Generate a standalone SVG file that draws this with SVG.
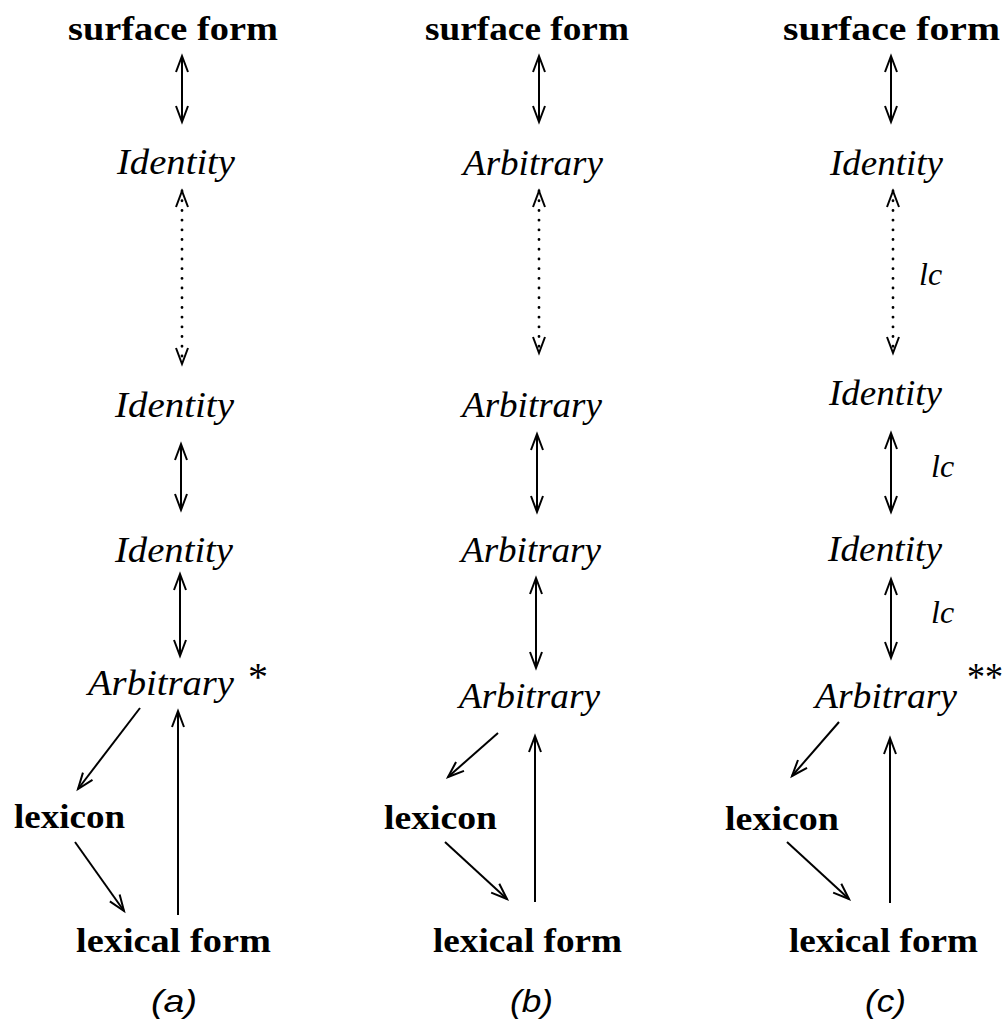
<svg xmlns="http://www.w3.org/2000/svg" width="1005" height="1030" viewBox="0 0 1005 1030">
<style>
.b{font-family:"Liberation Serif",serif;font-weight:bold;font-size:33px;fill:#000}
.i{font-family:"Liberation Serif",serif;font-style:italic;font-size:35px;fill:#000}
.lc{font-family:"Liberation Serif",serif;font-style:italic;font-size:32px;fill:#000}
.st{font-family:"Liberation Serif",serif;font-size:40px;fill:#000}
.lab{font-family:"Liberation Sans",sans-serif;font-style:italic;font-size:32px;fill:#000}
.c{stroke:#000;stroke-width:2;fill:none}
.two{marker-start:url(#hs);marker-end:url(#he)}
.one{marker-end:url(#he)}
.dot{stroke-dasharray:0.1 9.6;stroke-linecap:round;stroke-width:2.8}
</style>
<defs>
<marker id="he" markerUnits="userSpaceOnUse" markerWidth="30" markerHeight="30" refX="0" refY="0" orient="auto" overflow="visible" viewBox="-20 -10 30 20">
<path d="M-16,-6 L0,0 L-16,6" fill="none" stroke="#000" stroke-width="2"/>
</marker>
<marker id="hs" markerUnits="userSpaceOnUse" markerWidth="30" markerHeight="30" refX="0" refY="0" orient="auto-start-reverse" overflow="visible" viewBox="-20 -10 30 20">
<path d="M-16,-6 L0,0 L-16,6" fill="none" stroke="#000" stroke-width="2"/>
</marker>
</defs>
<rect width="1005" height="1030" fill="#fff"/>

<g id="a-surface"><text class="b" x="68" y="40" textLength="210" lengthAdjust="spacingAndGlyphs">surface form</text></g>
<g id="a-id1"><text class="i" x="117" y="174" textLength="118" lengthAdjust="spacingAndGlyphs">Identity</text></g>
<g id="a-id2"><text class="i" x="115" y="417" textLength="119" lengthAdjust="spacingAndGlyphs">Identity</text></g>
<g id="a-id3"><text class="i" x="115" y="562" textLength="118" lengthAdjust="spacingAndGlyphs">Identity</text></g>
<g id="a-arb"><text class="i" x="88" y="695" textLength="146" lengthAdjust="spacingAndGlyphs">Arbitrary</text><text class="st" x="248" y="690">*</text></g>
<g id="a-lexicon"><text class="b" x="14" y="828" textLength="111" lengthAdjust="spacingAndGlyphs">lexicon</text></g>
<g id="a-lexform"><text class="b" x="76" y="952" textLength="195" lengthAdjust="spacingAndGlyphs">lexical form</text></g>
<g id="a-label"><text class="lab" x="151" y="1012" textLength="46" lengthAdjust="spacingAndGlyphs">(a)</text></g>

<g id="b-surface"><text class="b" x="425" y="40" textLength="204" lengthAdjust="spacingAndGlyphs">surface form</text></g>
<g id="b-arb1"><text class="i" x="463" y="175" textLength="140" lengthAdjust="spacingAndGlyphs">Arbitrary</text></g>
<g id="b-arb2"><text class="i" x="462" y="417" textLength="140" lengthAdjust="spacingAndGlyphs">Arbitrary</text></g>
<g id="b-arb3"><text class="i" x="461" y="562" textLength="140" lengthAdjust="spacingAndGlyphs">Arbitrary</text></g>
<g id="b-arb4"><text class="i" x="459" y="708" textLength="141" lengthAdjust="spacingAndGlyphs">Arbitrary</text></g>
<g id="b-lexicon"><text class="b" x="384" y="829" textLength="113" lengthAdjust="spacingAndGlyphs">lexicon</text></g>
<g id="b-lexform"><text class="b" x="433" y="952" textLength="189" lengthAdjust="spacingAndGlyphs">lexical form</text></g>
<g id="b-label"><text class="lab" x="510" y="1012" textLength="43" lengthAdjust="spacingAndGlyphs">(b)</text></g>

<g id="c-surface"><text class="b" x="783" y="40" textLength="217" lengthAdjust="spacingAndGlyphs">surface form</text></g>
<g id="c-id1"><text class="i" x="830" y="175" textLength="113" lengthAdjust="spacingAndGlyphs">Identity</text></g>
<g id="c-id2"><text class="i" x="829" y="405" textLength="113" lengthAdjust="spacingAndGlyphs">Identity</text></g>
<g id="c-id3"><text class="i" x="828" y="561" textLength="114" lengthAdjust="spacingAndGlyphs">Identity</text></g>
<g id="c-arb"><text class="i" x="815" y="708" textLength="142" lengthAdjust="spacingAndGlyphs">Arbitrary</text><text class="st" x="967" y="690" textLength="36" lengthAdjust="spacingAndGlyphs">**</text></g>
<g id="c-lexicon"><text class="b" x="725" y="830" textLength="114" lengthAdjust="spacingAndGlyphs">lexicon</text></g>
<g id="c-lexform"><text class="b" x="789" y="952" textLength="189" lengthAdjust="spacingAndGlyphs">lexical form</text></g>
<g id="c-label"><text class="lab" x="865" y="1012" textLength="41" lengthAdjust="spacingAndGlyphs">(c)</text></g>
<g id="c-lc"><text class="lc" x="919" y="285">lc</text><text class="lc" x="931" y="477">lc</text><text class="lc" x="931" y="623">lc</text></g>

<g id="connectors">
<line class="c two" x1="182" y1="56" x2="182" y2="122"/>
<line class="c two dot" x1="182" y1="191" x2="182" y2="364"/>
<line class="c two" x1="181" y1="444" x2="181" y2="510"/>
<line class="c two" x1="180" y1="574" x2="180" y2="656"/>
<line class="c one" x1="140" y1="708" x2="78" y2="789"/>
<line class="c one" x1="178" y1="915" x2="178" y2="711"/>
<line class="c one" x1="75" y1="842" x2="124" y2="911"/>

<line class="c two" x1="539" y1="56" x2="539" y2="122"/>
<line class="c two dot" x1="539" y1="191" x2="539" y2="353"/>
<line class="c two" x1="537" y1="434" x2="537" y2="512"/>
<line class="c two" x1="536" y1="578" x2="536" y2="668"/>
<line class="c one" x1="498" y1="733" x2="448" y2="777"/>
<line class="c one" x1="535" y1="902" x2="535" y2="736"/>
<line class="c one" x1="445" y1="842" x2="507" y2="899"/>

<line class="c two" x1="891" y1="56" x2="891" y2="122"/>
<line class="c two dot" x1="893" y1="191" x2="893" y2="353"/>
<line class="c two" x1="891" y1="433" x2="891" y2="512"/>
<line class="c two" x1="891" y1="579" x2="891" y2="658"/>
<line class="c one" x1="839" y1="722" x2="792" y2="776"/>
<line class="c one" x1="890" y1="903" x2="890" y2="738"/>
<line class="c one" x1="787" y1="842" x2="849" y2="899"/>
</g>
</svg>
